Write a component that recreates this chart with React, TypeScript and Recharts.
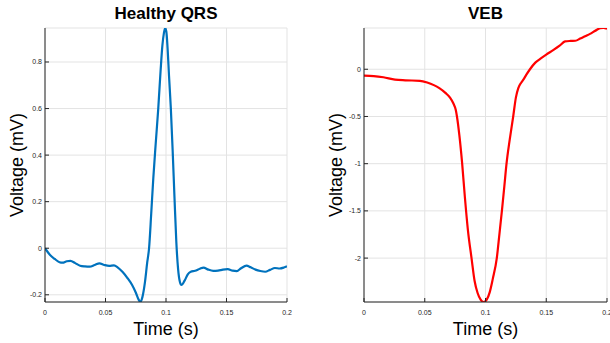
import React from 'react';
import { LineChart, Line, XAxis, YAxis, CartesianGrid } from 'recharts';

// time axis shared by both panels (seconds)
const timeTicks = [0, 0.05, 0.1, 0.15, 0.2];

// Healthy QRS complex
const healthyTime = [
  0, 0.004, 0.008, 0.012, 0.0145, 0.018, 0.021, 0.025, 0.029, 0.033, 0.037, 0.041, 0.045, 0.049,
  0.053, 0.057, 0.06, 0.064, 0.068, 0.072, 0.075, 0.0775, 0.0788, 0.0805, 0.0825, 0.0845, 0.086,
  0.0878, 0.0895, 0.0915, 0.0936, 0.0955, 0.097, 0.0983, 0.0993, 0.1003, 0.1013, 0.1025, 0.104,
  0.1055, 0.107, 0.1085, 0.11, 0.1115, 0.1128, 0.1155, 0.118, 0.1205, 0.124, 0.128, 0.131, 0.135,
  0.139, 0.143, 0.147, 0.151, 0.155, 0.1585, 0.162, 0.1665, 0.17, 0.174, 0.178, 0.182, 0.186, 0.19,
  0.194, 0.1975, 0.2,
];
const healthyVoltage = [
  0, -0.028, -0.046, -0.06, -0.062, -0.056, -0.054, -0.064, -0.075, -0.078, -0.079, -0.072, -0.065,
  -0.072, -0.076, -0.074, -0.082, -0.101, -0.127, -0.158, -0.19, -0.222, -0.231, -0.21, -0.15,
  -0.06, 0.0, 0.15, 0.3, 0.45, 0.6, 0.76, 0.87, 0.925, 0.946, 0.93, 0.86, 0.74, 0.6, 0.42, 0.22,
  0.03, -0.09, -0.145, -0.158, -0.138, -0.112, -0.101, -0.097, -0.088, -0.083, -0.092, -0.097,
  -0.096, -0.092, -0.09, -0.096, -0.098, -0.086, -0.075, -0.082, -0.092, -0.098, -0.101, -0.093,
  -0.085, -0.087, -0.083, -0.078,
];
const healthyTicks = [-0.2, 0, 0.2, 0.4, 0.6, 0.8];

// ventricular ectopic beat
const vebTime = [
  0, 0.008, 0.016, 0.0255, 0.034, 0.046, 0.052, 0.0575, 0.062, 0.067, 0.0708, 0.0735, 0.0755,
  0.0765, 0.0785, 0.0808, 0.083, 0.0855, 0.0885, 0.091, 0.0935, 0.096, 0.0985, 0.101, 0.1035,
  0.106, 0.1093, 0.1115, 0.1135, 0.1155, 0.1173, 0.12, 0.1228, 0.125, 0.127, 0.1295, 0.131, 0.1335,
  0.1366, 0.141, 0.145, 0.15, 0.156, 0.161, 0.1655, 0.17, 0.174, 0.178, 0.182, 0.186, 0.19, 0.1945,
  0.197, 0.2,
];
const vebVoltage = [
  -0.068, -0.072, -0.085, -0.11, -0.117, -0.122, -0.14, -0.168, -0.2, -0.25, -0.3, -0.36, -0.43,
  -0.5, -0.7, -1.0, -1.35, -1.7, -2.0, -2.24, -2.37, -2.44, -2.465, -2.44, -2.36, -2.22, -2.0,
  -1.74, -1.5, -1.24, -1.0, -0.74, -0.5, -0.3, -0.2, -0.14, -0.113, -0.06, 0.0, 0.07, 0.11, 0.155,
  0.205, 0.25, 0.295, 0.3, 0.302, 0.325, 0.35, 0.375, 0.405, 0.435, 0.437, 0.43,
];
const vebTicks = [-2, -1.5, -1, -0.5, 0];

const FONT = '"Liberation Sans", Arial, Helvetica, sans-serif';
const AXIS = '#262626';

interface PanelProps {
  title: string;
  times: number[];
  values: number[];
  color: string;
  domain: [number, number];
  yTicks: number[];
  left: number;
  axisWidth: number;
  rightMargin: number;
  labelOffset: number;
}

const Panel = ({ title, times, values, color, domain, yTicks, left, axisWidth, rightMargin, labelOffset }: PanelProps) => {
  const data = times.map((t, i) => ({ t, v: values[i] }));
  const tickStyle = { fontSize: 7, fill: AXIS, fontFamily: FONT };
  return (
    <div style={{ position: 'absolute', left, top: 0, width: 305, height: 343 }}>
      <div
        style={{
          position: 'absolute',
          left: axisWidth,
          width: 305 - axisWidth - rightMargin,
          top: 4,
          textAlign: 'center',
          fontFamily: FONT,
          fontWeight: 'bold',
          fontSize: 17,
          lineHeight: '20px',
          color: '#000',
        }}
      >
        {title}
      </div>
      <LineChart width={305} height={343} data={data} margin={{ top: 28, right: rightMargin, bottom: 0, left: 0 }}>
        <CartesianGrid stroke="#e3e3e3" strokeWidth={1} />
        <XAxis
          dataKey="t"
          type="number"
          domain={[0, 0.2]}
          ticks={timeTicks}
          interval={0}
          allowDataOverflow
          height={41}
          tick={tickStyle}
          tickSize={-4}
          tickMargin={12}
          axisLine={{ stroke: AXIS }}
          tickLine={{ stroke: AXIS }}
          label={{ value: 'Time (s)', position: 'insideBottom', offset: 8, style: { fontSize: 18, fontFamily: FONT, fill: '#000' } }}
        />
        <XAxis
          xAxisId="top"
          orientation="top"
          type="number"
          domain={[0, 0.2]}
          ticks={timeTicks}
          interval={0}
          height={0}
          tick={false}
          tickSize={-4}
          axisLine={{ stroke: AXIS }}
          tickLine={{ stroke: AXIS }}
        />
        <YAxis
          type="number"
          domain={domain}
          ticks={yTicks}
          interval={0}
          allowDataOverflow
          width={axisWidth}
          tick={tickStyle}
          tickSize={-4}
          tickMargin={7}
          axisLine={{ stroke: AXIS }}
          tickLine={{ stroke: AXIS }}
          label={{
            value: 'Voltage (mV)',
            angle: -90,
            position: 'insideLeft',
            offset: labelOffset,
            style: { fontSize: 18, fontFamily: FONT, fill: '#000', textAnchor: 'middle' },
          }}
        />
        <YAxis
          yAxisId="right"
          orientation="right"
          type="number"
          domain={domain}
          ticks={yTicks}
          interval={0}
          width={0}
          tick={false}
          tickSize={-4}
          axisLine={{ stroke: AXIS }}
          tickLine={{ stroke: AXIS }}
        />
        <Line dataKey="v" type="monotone" stroke={color} strokeWidth={2.2} dot={false} isAnimationActive={false} />
      </LineChart>
    </div>
  );
};

export default function App() {
  return (
    <div style={{ position: 'absolute', left: 0, top: 0, width: 610, height: 343, background: '#fff' }}>
      <Panel
        title="Healthy QRS"
        times={healthyTime}
        values={healthyVoltage}
        color="#0072BD"
        domain={[-0.231, 0.946]}
        yTicks={healthyTicks}
        left={0}
        axisWidth={45}
        rightMargin={18}
        labelOffset={17}
      />
      <Panel
        title="VEB"
        times={vebTime}
        values={vebVoltage}
        color="#FF0000"
        domain={[-2.465, 0.437]}
        yTicks={vebTicks}
        left={305}
        axisWidth={59}
        rightMargin={3}
        labelOffset={31}
      />
    </div>
  );
}
